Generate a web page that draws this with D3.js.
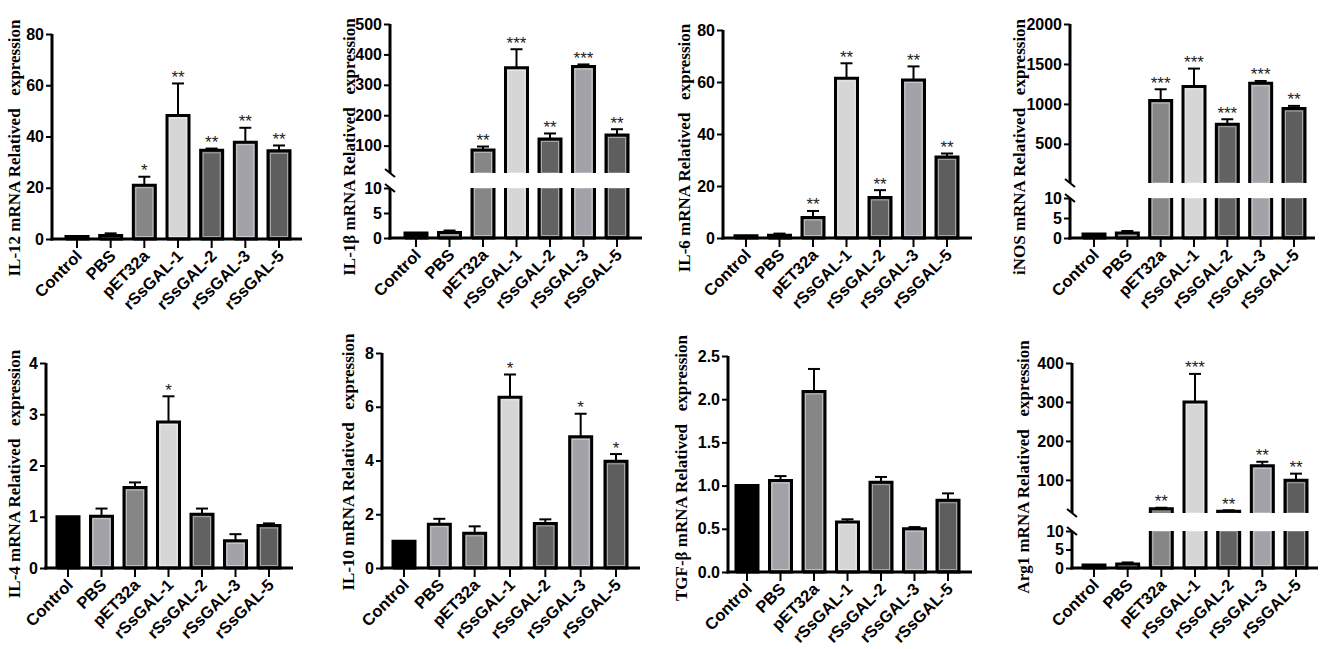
<!DOCTYPE html>
<html>
<head>
<meta charset="utf-8">
<script src="https://cdn.jsdelivr.net/npm/d3@7"></script>
<style>
  html, body { margin: 0; padding: 0; background: #fff; }
  svg { display: block; }
  .ytitle { font-family: "Liberation Serif", "Times New Roman", serif; font-weight: bold; font-size: 17px; white-space: pre; }
  .tick text, .xlab { font-family: "Liberation Sans", Arial, sans-serif; font-weight: bold; }
  .star { font-family: "Liberation Sans", Arial, sans-serif; font-size: 17px; fill: #222; }
</style>
</head>
<body>
<svg id="chart" width="1325" height="649"></svg>
<script>
// groups and their bar colours
const groups = ['Control', 'PBS', 'pET32a', 'rSsGAL-1', 'rSsGAL-2', 'rSsGAL-3', 'rSsGAL-5'];
const fills = ['#000000', '#a1a1a7', '#868686', '#d6d6d6', '#626262', '#a2a2a8', '#5e5e5e'];

// means, upper error (mean + SD) and significance marks
const il12Mean = [1, 1.4, 21, 48.2, 34.6, 37.8, 34.4];
const il12Err  = [1, 2.2, 24.3, 60.7, 35.3, 43.4, 36.5];
const il12Sig  = ['', '', '*', '**', '**', '**', '**'];

const il1bMean = [1, 1.1, 86, 356, 122, 360, 135];
const il1bErr  = [1, 1.5, 97, 417, 140, 367, 154];
const il1bSig  = ['', '', '**', '***', '**', '***', '**'];

const il6Mean = [0.9, 1.1, 7.9, 61.4, 15.6, 60.8, 31.2];
const il6Err  = [0.9, 1.7, 10.4, 67.2, 18.4, 66, 32.5];
const il6Sig  = ['', '', '**', '**', '**', '**', '**'];

const inosMean = [1, 1.25, 1041, 1217, 746, 1258, 942];
const inosErr  = [1, 1.75, 1183, 1442, 808, 1287, 975];
const inosSig  = ['', '', '***', '***', '***', '***', '**'];

const il4Mean = [1, 1.01, 1.57, 2.85, 1.05, 0.53, 0.83];
const il4Err  = [1, 1.16, 1.67, 3.35, 1.16, 0.66, 0.87];
const il4Sig  = ['', '', '', '*', '', '', ''];

const il10Mean = [1, 1.63, 1.29, 6.35, 1.66, 4.88, 3.97];
const il10Err  = [1, 1.83, 1.55, 7.2, 1.81, 5.74, 4.24];
const il10Sig  = ['', '', '', '*', '', '*', '*'];

const tgfMean = [1, 1.06, 2.09, 0.58, 1.04, 0.5, 0.83];
const tgfErr  = [1, 1.11, 2.35, 0.61, 1.1, 0.52, 0.91];
const tgfSig  = ['', '', '', '', '', '', ''];

const argMean = [0.8, 1.1, 26, 300, 19.5, 136, 99];
const argErr  = [0.8, 1.5, 28.5, 372, 22, 146.5, 116];
const argSig  = ['', '', '**', '***', '**', '**', '**'];

const panels = [
  { title: 'IL-12 mRNA Relatived   expression', mean: il12Mean, err: il12Err, sig: il12Sig,
    domain: [0, 80], ticks: [0, 20, 40, 60, 80],
    axisX: 52, y0: 239, yTop: 34, xFirst: 77, xLast: 279, xEnd: 302, tx: 14, ty: 148 },
  { title: 'IL-1β mRNA Relatived   expression', mean: il1bMean, err: il1bErr, sig: il1bSig,
    broken: { low: [0, 10], lowTicks: [0, 5, 10], up: [10, 500], upTicks: [100, 200, 300, 400, 500],
              lowTop: 188, upBottom: 173 },
    axisX: 390, y0: 238, yTop: 24, xFirst: 416, xLast: 617, xEnd: 642, tx: 349, ty: 147 },
  { title: 'IL-6 mRNA Relatived   expression', mean: il6Mean, err: il6Err, sig: il6Sig,
    domain: [0, 80], ticks: [0, 20, 40, 60, 80],
    axisX: 723, y0: 238, yTop: 30, xFirst: 746, xLast: 947, xEnd: 972, tx: 684, ty: 148 },
  { title: 'iNOS mRNA Relatived   expression', mean: inosMean, err: inosErr, sig: inosSig,
    broken: { low: [0, 10], lowTicks: [0, 5, 10], up: [10, 2000], upTicks: [500, 1000, 1500, 2000],
              lowTop: 198, upBottom: 183 },
    axisX: 1070, y0: 238, yTop: 24, xFirst: 1094, xLast: 1294, xEnd: 1315, tx: 1019, ty: 147 },
  { title: 'IL-4 mRNA Relatived   expression', mean: il4Mean, err: il4Err, sig: il4Sig,
    domain: [0, 4], ticks: [0, 1, 2, 3, 4],
    axisX: 46, y0: 568, yTop: 363, xFirst: 68, xLast: 269, xEnd: 293, tx: 14, ty: 474 },
  { title: 'IL-10 mRNA Relatived   expression', mean: il10Mean, err: il10Err, sig: il10Sig,
    domain: [0, 8], ticks: [0, 2, 4, 6, 8],
    axisX: 382, y0: 568, yTop: 353, xFirst: 404, xLast: 616, xEnd: 640, tx: 348, ty: 462 },
  { title: 'TGF-β mRNA Relatived   expression', mean: tgfMean, err: tgfErr, sig: tgfSig,
    domain: [0, 2.5], ticks: [0, 0.5, 1, 1.5, 2, 2.5], fmt: '.1f',
    axisX: 728, y0: 572, yTop: 356, xFirst: 747, xLast: 948, xEnd: 972, tx: 681, ty: 468 },
  { title: 'Arg1 mRNA Relatived   expression', mean: argMean, err: argErr, sig: argSig,
    broken: { low: [0, 10], lowTicks: [0, 5, 10], up: [15, 400], upTicks: [100, 200, 300, 400],
              lowTop: 531, upBottom: 513 },
    axisX: 1072, y0: 568, yTop: 363, xFirst: 1094, xLast: 1296, xEnd: 1318, tx: 1023, ty: 467 },
];

const svg = d3.select('#chart');
const barW = 22;

function styleAxis(g) {
  g.select('.domain').remove();
  g.selectAll('.tick line').attr('stroke', '#000').attr('stroke-width', 2);
  g.selectAll('.tick text').attr('fill', '#000').style('font-size', '16px');
}

function yAxis(scale, ticks, fmt) {
  return d3.axisLeft(scale).tickValues(ticks).tickSize(6).tickPadding(2)
    .tickFormat(d3.format(fmt || 'd'));
}

function drawPanel(p) {
  const g = svg.append('g');
  const x = d3.scalePoint().domain(groups).range([p.xFirst, p.xLast]);
  const data = groups.map((name, i) => ({ name, mean: p.mean[i], err: p.err[i], sig: p.sig[i], fill: fills[i] }));

  let yPos, pieces;
  if (p.broken) {
    const b = p.broken;
    const yLow = d3.scaleLinear().domain(b.low).range([p.y0, b.lowTop]);
    const yUp = d3.scaleLinear().domain(b.up).range([b.upBottom, p.yTop]);
    yPos = (v) => v <= b.low[1] ? yLow(v) : yUp(Math.max(v, b.up[0]));
    pieces = (d) => {
      const out = [];
      if (d.mean <= b.low[1]) {
        out.push({ y1: p.y0, y2: yLow(d.mean), openTop: false, openBottom: false });
      } else {
        out.push({ y1: p.y0, y2: b.lowTop, openTop: true, openBottom: false });
        if (d.mean > b.up[0]) out.push({ y1: b.upBottom, y2: yUp(d.mean), openTop: false, openBottom: true });
      }
      return out;
    };
    g.append('g').attr('transform', `translate(${p.axisX},0)`)
      .call(yAxis(yLow, b.lowTicks)).call(styleAxis);
    g.append('g').attr('transform', `translate(${p.axisX},0)`)
      .call(yAxis(yUp, b.upTicks)).call(styleAxis);
    g.append('line').attr('x1', p.axisX).attr('x2', p.axisX).attr('y1', p.y0 + 1.5).attr('y2', b.lowTop)
      .attr('stroke', '#000').attr('stroke-width', 3);
    g.append('line').attr('x1', p.axisX).attr('x2', p.axisX).attr('y1', b.upBottom).attr('y2', p.yTop)
      .attr('stroke', '#000').attr('stroke-width', 3);
    // break marks
    [b.upBottom, b.lowTop].forEach((yy) => {
      g.append('line').attr('x1', p.axisX - 5).attr('y1', yy - 4).attr('x2', p.axisX + 5).attr('y2', yy + 4)
        .attr('stroke', '#000').attr('stroke-width', 2);
    });
  } else {
    const y = d3.scaleLinear().domain(p.domain).range([p.y0, p.yTop]);
    yPos = y;
    pieces = (d) => [{ y1: p.y0, y2: y(d.mean), openTop: false, openBottom: false }];
    g.append('g').attr('transform', `translate(${p.axisX},0)`)
      .call(yAxis(y, p.ticks, p.fmt)).call(styleAxis);
    g.append('line').attr('x1', p.axisX).attr('x2', p.axisX).attr('y1', p.y0 + 1.5).attr('y2', p.yTop)
      .attr('stroke', '#000').attr('stroke-width', 3);
  }

  // bars
  data.forEach((d) => {
    const cx = x(d.name);
    const x0 = cx - barW / 2, x1 = cx + barW / 2;
    pieces(d).forEach((pc) => {
      const top = Math.min(pc.y1, pc.y2), bot = Math.max(pc.y1, pc.y2);
      g.append('rect').attr('x', x0).attr('y', top).attr('width', barW).attr('height', Math.max(bot - top, 0.5))
        .attr('fill', d.fill);
      if (d.name !== 'Control' && bot - top > 6) {
        g.append('rect').attr('x', x0 + 2.5).attr('y', top + (pc.openTop ? 0 : 2.5))
          .attr('width', barW - 5)
          .attr('height', Math.max(bot - top - (pc.openTop ? 0 : 2.5) - (pc.openBottom ? 0 : 2.5), 0))
          .attr('fill', 'none').attr('stroke', 'rgba(255,255,255,0.45)').attr('stroke-width', 1);
      }
      let path = `M${x0},${bot} L${x0},${top}`;
      path += pc.openTop ? ` M${x1},${top}` : ` L${x1},${top}`;
      path += ` L${x1},${bot}`;
      if (!pc.openBottom) path += ` L${x0},${bot}`;
      g.append('path').attr('d', path).attr('fill', 'none').attr('stroke', '#000').attr('stroke-width', 3);
    });
    // error bar (upper only)
    const yM = yPos(d.mean), yE = yPos(d.err);
    if (yM - yE > 0.5) {
      g.append('line').attr('x1', cx).attr('x2', cx).attr('y1', yM).attr('y2', yE)
        .attr('stroke', '#000').attr('stroke-width', 2);
      g.append('line').attr('x1', cx - 6).attr('x2', cx + 6).attr('y1', yE).attr('y2', yE)
        .attr('stroke', '#000').attr('stroke-width', 2);
    }
    if (d.sig) {
      g.append('text').attr('class', 'star').attr('x', cx).attr('y', Math.min(yE, yM) - 0.5)
        .attr('text-anchor', 'middle').text(d.sig);
    }
  });

  // x axis
  g.append('line').attr('x1', p.axisX - 1.5).attr('x2', p.xEnd).attr('y1', p.y0).attr('y2', p.y0)
    .attr('stroke', '#000').attr('stroke-width', 3);
  groups.forEach((name) => {
    const cx = x(name);
    g.append('line').attr('x1', cx).attr('x2', cx).attr('y1', p.y0).attr('y2', p.y0 + 9)
      .attr('stroke', '#000').attr('stroke-width', 2);
    g.append('text').attr('class', 'xlab')
      .attr('transform', `translate(${cx + 6},${p.y0 + 18}) rotate(-45)`)
      .attr('text-anchor', 'end').style('font-size', '16.5px').text(name);
  });

  // y title
  g.append('text').attr('class', 'ytitle')
    .attr('transform', `translate(${p.tx},${p.ty}) rotate(-90)`)
    .attr('text-anchor', 'middle').attr('dy', '0.35em').text(p.title);
}

panels.forEach(drawPanel);
</script>
</body>
</html>
